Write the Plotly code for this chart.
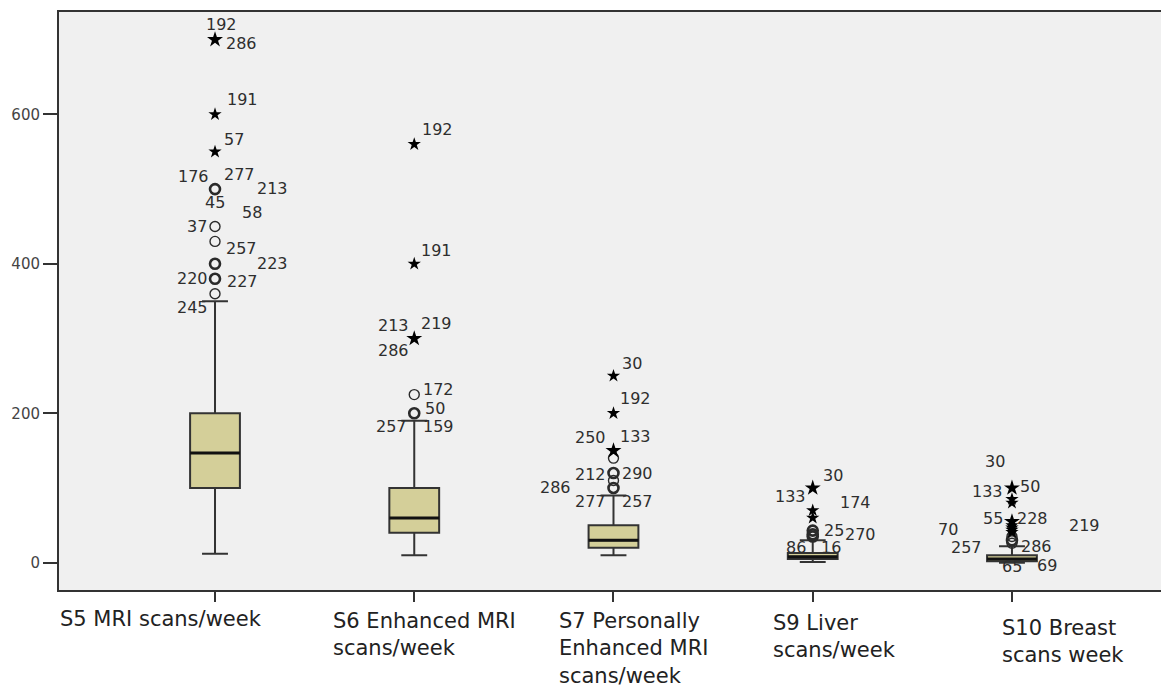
import plotly.graph_objects as go

# Categories (x-axis labels, one list entry per printed line)
categories = ["S5", "S6", "S7", "S9", "S10"]
category_lines = [
    ["S5 MRI scans/week"],
    ["S6 Enhanced MRI", "scans/week"],
    ["S7 Personally", "Enhanced MRI", "scans/week"],
    ["S9 Liver", "scans/week"],
    ["S10 Breast", "scans week"],
]

# Box statistics
lower_whisker = [12, 10, 10, 1, 0]
q1 = [100, 40, 20, 5, 2]
median = [147, 60, 30, 8, 5]
q3 = [200, 100, 50, 13, 10]
upper_whisker = [350, 190, 90, 30, 22]

# Outliers: category index, value, kind ("circle" = outlier, "star" = extreme), number of cases
outlier_cat = [0, 0, 0, 0, 0, 0, 0, 0, 0,
               1, 1, 1, 1, 1,
               2, 2, 2, 2, 2, 2, 2,
               3, 3, 3, 3, 3, 3,
               4, 4, 4, 4, 4, 4, 4, 4, 4, 4, 4]
outlier_val = [700, 600, 550, 500, 450, 430, 400, 380, 360,
               560, 400, 300, 225, 200,
               250, 200, 150, 140, 120, 110, 100,
               100, 70, 60, 43, 38, 35,
               100, 85, 80, 55, 50, 47, 44, 41, 35, 30, 26]
outlier_kind = ["star", "star", "star", "circle", "circle", "circle", "circle", "circle", "circle",
                "star", "star", "star", "circle", "circle",
                "star", "star", "star", "circle", "circle", "circle", "circle",
                "star", "star", "star", "circle", "circle", "circle",
                "star", "star", "star", "star", "star", "star", "star", "star", "circle", "circle", "circle"]
outlier_cases = [2, 1, 1, 5, 1, 1, 2, 2, 1,
                 1, 1, 3, 1, 3,
                 1, 1, 2, 1, 2, 1, 3,
                 2, 1, 1, 2, 2, 2,
                 2, 1, 1, 2, 1, 1, 1, 1, 1, 2, 1]

# Case-number labels: category index, value they refer to, text
label_cat = [0, 0, 0, 0, 0, 0, 0, 0, 0, 0, 0, 0, 0, 0, 0,
             1, 1, 1, 1, 1, 1, 1, 1, 1,
             2, 2, 2, 2, 2, 2, 2, 2, 2,
             3, 3, 3, 3, 3, 3, 3,
             4, 4, 4, 4, 4, 4, 4, 4, 4, 4, 4]
label_val = [700, 700, 600, 550, 500, 500, 500, 500, 500, 450, 430, 400, 380, 380, 360,
             560, 400, 300, 300, 300, 225, 200, 200, 200,
             250, 200, 150, 150, 120, 120, 100, 100, 100,
             100, 100, 70, 43, 43, 35, 35,
             100, 100, 100, 55, 55, 55, 44, 26, 26, 0, 0]
label_text = ["192", "286", "191", "57", "176", "277", "213", "45", "58", "37", "257", "223", "220", "227", "245",
              "192", "191", "213", "219", "286", "172", "50", "257", "159",
              "30", "192", "250", "133", "212", "290", "286", "277", "257",
              "30", "133", "174", "25", "270", "86", "16",
              "30", "133", "50", "55", "228", "219", "70", "286", "257", "65", "69"]

# Pixel offsets of each label from the point it refers to
label_dx = [6, 26, 27, 19, -22, 24, 57, 0, 37, -18, 26, 57, -23, 27, -23,
            23, 22, -21, 22, -21, 24, 21, -23, 24,
            19, 22, -23, 22, -23, 24, -58, -23, 24,
            20, -22, 43, 21, 48, -17, 18,
            -17, -24, 18, -19, 21, 73, -64, 25, -45, 0, 35]
label_dy = [-15, 4, -15, -12, -13, -15, -1, 13, 23, 0, 7, 0, 0, 3, 14,
            -15, -13, -13, -15, 12, -5, -5, 13, 13,
            -12, -15, -13, -14, 1, 0, -1, 13, 13,
            -13, 8, -8, 0, 4, 11, 11,
            -27, 3, -2, -3, -3, 4, 0, 3, 4, 4, 3]

BOX_FILL = "#d4cf99"
LINE = "#333333"
TEXT = "#2e2e2e"
NUM_FONT = dict(family="DejaVu Sans", size=16, color=TEXT)

fig = go.Figure()

xs = list(range(len(categories)))
fig.add_trace(go.Box(
    x=xs,
    q1=q1, median=median, q3=q3,
    lowerfence=lower_whisker, upperfence=upper_whisker,
    width=0.25,
    whiskerwidth=0.52,
    fillcolor=BOX_FILL,
    line=dict(color=LINE, width=2),
    boxpoints=False,
    hoverinfo="skip",
    showlegend=False,
))

# Heavier median bars drawn over each box
mx, my = [], []
for i, m in enumerate(median):
    mx += [i - 0.125, i + 0.125, None]
    my += [m, m, None]
fig.add_trace(go.Scatter(x=mx, y=my, mode="lines",
                         line=dict(color="#111111", width=3),
                         hoverinfo="skip", showlegend=False))

# Outlier circles
ci = [k for k, kind in enumerate(outlier_kind) if kind == "circle"]
fig.add_trace(go.Scatter(
    x=[outlier_cat[k] for k in ci],
    y=[outlier_val[k] for k in ci],
    mode="markers",
    marker=dict(symbol="circle-open", size=10, color="#2a2a2a",
                line=dict(color="#2a2a2a",
                          width=[2.6 if outlier_cases[k] > 1 else 1.4 for k in ci])),
    hoverinfo="skip", showlegend=False,
))

# Extreme-value stars
si = [k for k, kind in enumerate(outlier_kind) if kind == "star"]
fig.add_trace(go.Scatter(
    x=[outlier_cat[k] for k in si],
    y=[outlier_val[k] for k in si],
    mode="markers",
    marker=dict(symbol="star", color="#000000", opacity=1,
                size=[12 if outlier_cases[k] > 1 else 10 for k in si],
                line=dict(width=0)),
    hoverinfo="skip", showlegend=False,
))

annotations = []
for c, v, t, dx, dy in zip(label_cat, label_val, label_text, label_dx, label_dy):
    annotations.append(dict(x=c, y=v, xref="x", yref="y", text=t, showarrow=False,
                            xshift=dx, yshift=-dy, font=NUM_FONT))

# Category captions under the axis, left aligned
caption_dx = [-157, -83, -56, -42, -12]
caption_dy = [15, 17, 17, 19, 24]
for i, lines in enumerate(category_lines):
    annotations.append(dict(
        x=i, y=0, xref="x", yref="paper", text="<br>".join(lines),
        showarrow=False, xanchor="left", yanchor="top", align="left",
        xshift=caption_dx[i], yshift=-caption_dy[i],
        font=dict(family="DejaVu Sans", size=21, color="#222222"),
    ))

fig.update_layout(
    width=1161, height=688,
    margin=dict(l=59, r=0, t=12, b=98),
    paper_bgcolor="white",
    plot_bgcolor="#f0f0f0",
    annotations=annotations,
    xaxis=dict(range=[-0.783, 4.748], tickvals=xs, showticklabels=False,
               ticks="outside", ticklen=10, tickwidth=2, tickcolor=LINE,
               showline=True, linecolor=LINE, linewidth=2, mirror=True,
               showgrid=False, zeroline=False),
    yaxis=dict(range=[-36.5, 737], tickvals=[0, 200, 400, 600],
               ticks="outside", ticklen=14, tickwidth=2, tickcolor=LINE,
               tickfont=dict(family="DejaVu Sans", size=15, color="#444444"),
               showline=True, linecolor=LINE, linewidth=2, mirror=False,
               showgrid=False, zeroline=False),
)

fig.write_html("out.html")
